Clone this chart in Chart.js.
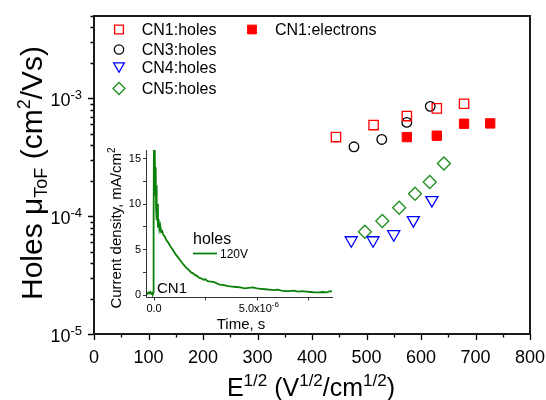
<!DOCTYPE html>
<html>
<head>
<meta charset="utf-8">
<script src="https://cdn.jsdelivr.net/npm/chart.js@4.4.1/dist/chart.umd.min.js"></script>
<style>
  body { margin: 0; background: #fff; }
  #wrap { position: relative; width: 546px; height: 400px; }
  #mainChart { position: absolute; left: 0; top: 0; }
  #insetChart { position: absolute; left: 100px; top: 140px; }
</style>
</head>
<body>
<div id="wrap">
  <canvas id="mainChart" width="546" height="400"></canvas>
  <canvas id="insetChart" width="240" height="200"></canvas>
</div>
<script>
"use strict";

// main plot: E^1/2 vs ToF mobility
var cn1HolesE = [444, 513, 574, 629, 679];
var cn1HolesMu = [4.69e-4, 5.93e-4, 7.07e-4, 8.22e-4, 9.0e-4];
var cn3HolesE = [477, 528, 574, 617];
var cn3HolesMu = [3.88e-4, 4.48e-4, 6.25e-4, 8.55e-4];
var cn4HolesE = [472, 512, 550, 586, 620];
var cn4HolesMu = [6.25e-5, 6.25e-5, 7.03e-5, 9.25e-5, 1.37e-4];
var cn5HolesE = [497, 529, 560, 589, 616, 642];
var cn5HolesMu = [7.38e-5, 9.1e-5, 1.18e-4, 1.55e-4, 1.95e-4, 2.8e-4];
var cn1ElecE = [574, 629, 679, 727];
var cn1ElecMu = [4.69e-4, 4.82e-4, 6.09e-4, 6.13e-4];

var xTicks = [0, 100, 200, 300, 400, 500, 600, 700, 800];
var yTickPowers = [-5, -4, -3];

// inset: transient photocurrent, CN1 holes at 120V (time in microseconds)
var timeUs = [-0.38, -0.33, -0.28, -0.23, -0.18, -0.13, -0.08, -0.05, -0.03, -0.02, 0.0, 0.02, 0.04, 0.06, 0.08, 0.1, 0.12, 0.14, 0.16, 0.19, 0.22, 0.26, 0.3, 0.35, 0.4, 0.45, 0.52, 0.6, 0.7, 0.8, 0.9, 1.0, 1.1, 1.2, 1.3, 1.4, 1.5, 1.6, 1.7, 1.8, 1.9, 2.0, 2.1, 2.2, 2.3, 2.4, 2.5, 2.6, 2.75, 2.9, 3.05, 3.2, 3.4, 3.6, 3.8, 4.0, 4.2, 4.4, 4.6, 4.8, 5.0, 5.2, 5.4, 5.6, 5.8, 6.0, 6.2, 6.4, 6.6, 6.8, 7.0, 7.2, 7.4, 7.6, 7.8, 8.0, 8.2, 8.4, 8.55, 8.65];
var currentDensity = [0.2, 0.1, 0.25, 0.15, 0.3, 0.1, 0.2, 0.15, 0.3, 8, 19, 13, 17, 11, 14, 9.5, 12, 8.2, 10, 7.4, 8.3, 7.2, 7.6, 6.9, 7.0, 6.6, 6.4, 6.0, 5.7, 5.3, 5.0, 4.6, 4.3, 4.0, 3.7, 3.4, 3.15, 2.9, 2.7, 2.45, 2.35, 2.15, 2.05, 1.85, 1.8, 1.65, 1.7, 1.5, 1.45, 1.4, 1.25, 1.1, 1.05, 0.95, 0.9, 0.85, 0.8, 0.7, 0.75, 0.8, 0.7, 0.65, 0.6, 0.55, 0.5, 0.55, 0.45, 0.4, 0.4, 0.45, 0.35, 0.4, 0.35, 0.3, 0.25, 0.25, 0.3, 0.25, 0.4, 0.35];
var insetYTicks = [0, 2.5, 5, 7.5, 10, 12.5, 15];
var insetXTicks = [0, 2.5, 5, 7.5];

var FONT = '"Liberation Sans", Arial, sans-serif';

function toPoints(xs, ys) {
  return xs.map(function (x, i) {
    return { x: x, y: ys[i] };
  });
}

// text made of pieces: [text, size, dy]
function drawRich(ctx, parts, x, y, align) {
  var total = 0;
  parts.forEach(function (p) {
    ctx.font = p[1] + "px " + FONT;
    p.w = ctx.measureText(p[0]).width;
    total += p.w;
  });
  var cx = x;
  if (align === "center") cx = x - total / 2;
  if (align === "right") cx = x - total;
  ctx.textAlign = "left";
  ctx.textBaseline = "alphabetic";
  parts.forEach(function (p) {
    ctx.font = p[1] + "px " + FONT;
    ctx.fillText(p[0], cx, y + (p[2] || 0));
    cx += p.w;
  });
}

function drawMarker(ctx, ds, x, y, r) {
  ctx.save();
  ctx.lineWidth = ds.pointBorderWidth;
  ctx.strokeStyle = ds.pointBorderColor;
  ctx.fillStyle = ds.pointBackgroundColor;
  ctx.beginPath();
  if (ds.pointStyle === "rect") {
    var h = r * Math.SQRT1_2;
    ctx.rect(x - h, y - h, 2 * h, 2 * h);
  } else if (ds.pointStyle === "circle") {
    ctx.arc(x, y, r * 0.75, 0, 2 * Math.PI);
  } else if (ds.pointStyle === "triangle") {
    ctx.moveTo(x - r * 0.866, y - r / 2);
    ctx.lineTo(x + r * 0.866, y - r / 2);
    ctx.lineTo(x, y + r);
    ctx.closePath();
  } else {
    ctx.moveTo(x - r, y);
    ctx.lineTo(x, y - r);
    ctx.lineTo(x + r, y);
    ctx.lineTo(x, y + r);
    ctx.closePath();
  }
  ctx.fill();
  ctx.stroke();
  ctx.restore();
}

var legendSlots = [[119, 29.5, 141.7], [119, 49.5, 141.7], [119, 67.5, 141.7], [119, 88.5, 141.7], [252, 29.5, 275]];

var mainAxes = {
  id: "mainAxes",
  afterDraw: function (chart) {
    var ctx = chart.ctx;
    var ca = chart.chartArea;
    var xs = chart.scales.x;
    var ys = chart.scales.y;
    ctx.save();
    ctx.fillStyle = "#000";
    ctx.strokeStyle = "#000";

    // x ticks (major + minor) and labels
    ctx.lineWidth = 1.3;
    ctx.beginPath();
    for (var v = xs.min; v <= xs.max; v += 50) {
      var px = Math.round(xs.getPixelForValue(v)) + 0.5;
      ctx.moveTo(px, ca.bottom);
      ctx.lineTo(px, ca.bottom + (v % 100 === 0 ? 6 : 3.5));
    }
    // y ticks, log decades
    yTickPowers.forEach(function (p) {
      for (var m = 1; m <= 9; m++) {
        var val = m * Math.pow(10, p);
        if (val > ys.max * 1.0001) break;
        var py = Math.round(ys.getPixelForValue(val)) + 0.5;
        ctx.moveTo(ca.left, py);
        ctx.lineTo(ca.left - (m === 1 ? 6 : 3.5), py);
      }
    });
    ctx.stroke();

    ctx.font = "18px " + FONT;
    ctx.textAlign = "center";
    ctx.textBaseline = "alphabetic";
    xTicks.forEach(function (t) {
      ctx.fillText(String(t), xs.getPixelForValue(t), 363);
    });
    yTickPowers.forEach(function (p) {
      var py = ys.getPixelForValue(Math.pow(10, p));
      ctx.font = "13px " + FONT;
      var sw = ctx.measureText(String(p)).width;
      ctx.textAlign = "left";
      ctx.fillText(String(p), 82 - sw, py + 1);
      ctx.font = "18px " + FONT;
      ctx.textAlign = "right";
      ctx.fillText("10", 82 - sw, py + 8);
    });

    // frame
    ctx.lineWidth = 2;
    ctx.strokeStyle = "#1a1a1a";
    ctx.strokeRect(ca.left, ca.top, ca.right - ca.left, ca.bottom - ca.top);

    // axis titles
    ctx.fillStyle = "#000";
    drawRich(ctx, [["E", 25], ["1/2", 17, -10], [" (V", 25], ["1/2", 17, -10], ["/cm", 25], ["1/2", 17, -10], [")", 25]], (ca.left + ca.right) / 2 - 1, 396, "center");
    ctx.save();
    ctx.translate(42, 173);
    ctx.rotate(-Math.PI / 2);
    drawRich(ctx, [["Holes ", 30], ["\u03bc", 30], ["ToF", 18, 5], [" (cm", 30], ["2", 18, -12], ["/Vs)", 30]], 0, 0, "center");
    ctx.restore();

    // legend
    chart.data.datasets.forEach(function (ds, i) {
      var s = legendSlots[i];
      var my = ds.pointStyle === "triangle" ? s[1] - 1.5 : s[1];
      drawMarker(ctx, ds, s[0], my, ds.pointStyle === "rectRot" ? 6 : 6.2);
      ctx.fillStyle = "#000";
      ctx.font = "16px " + FONT;
      ctx.textAlign = "left";
      ctx.textBaseline = "middle";
      ctx.fillText(ds.label, s[2], s[1] + 1);
    });
    ctx.restore();
  },
};

var mainChart = new Chart(document.getElementById("mainChart").getContext("2d"), {
  type: "scatter",
  data: {
    datasets: [
      {
        label: "CN1:holes",
        data: toPoints(cn1HolesE, cn1HolesMu),
        pointStyle: "rect",
        pointRadius: 6.6,
        pointBorderWidth: 1.3,
        pointBorderColor: "#ff0000",
        pointBackgroundColor: "rgba(255,255,255,0)",
      },
      {
        label: "CN3:holes",
        data: toPoints(cn3HolesE, cn3HolesMu),
        pointStyle: "circle",
        pointRadius: 4.8,
        pointBorderWidth: 1.3,
        pointBorderColor: "#000000",
        pointBackgroundColor: "rgba(255,255,255,0)",
      },
      {
        label: "CN4:holes",
        data: toPoints(cn4HolesE, cn4HolesMu),
        pointStyle: "triangle",
        rotation: 180,
        pointRadius: 7,
        pointBorderWidth: 1.3,
        pointBorderColor: "#0000ff",
        pointBackgroundColor: "rgba(255,255,255,0)",
      },
      {
        label: "CN5:holes",
        data: toPoints(cn5HolesE, cn5HolesMu),
        pointStyle: "rectRot",
        pointRadius: 6.5,
        pointBorderWidth: 1.3,
        pointBorderColor: "#1f8f1f",
        pointBackgroundColor: "rgba(255,255,255,0)",
      },
      {
        label: "CN1:electrons",
        data: toPoints(cn1ElecE, cn1ElecMu),
        pointStyle: "rect",
        pointRadius: 6.6,
        pointBorderWidth: 1,
        pointBorderColor: "#ff0000",
        pointBackgroundColor: "#ff0000",
      },
    ],
  },
  options: {
    responsive: false,
    animation: false,
    layout: { padding: { left: 94, right: 16, top: 16, bottom: 66 } },
    plugins: { legend: { display: false }, tooltip: { enabled: false } },
    scales: {
      x: { type: "linear", min: 0, max: 800, display: false },
      y: { type: "logarithmic", min: 1e-5, max: 5e-3, display: false },
    },
  },
  plugins: [mainAxes],
});

var insetAxes = {
  id: "insetAxes",
  afterDraw: function (chart) {
    var ctx = chart.ctx;
    var ca = chart.chartArea;
    var xs = chart.scales.x;
    var ys = chart.scales.y;
    ctx.save();
    ctx.strokeStyle = "#333";
    ctx.lineWidth = 1;
    ctx.beginPath();
    ctx.moveTo(ca.left + 0.5, ca.top);
    ctx.lineTo(ca.left + 0.5, ca.bottom + 0.5);
    ctx.lineTo(ca.right, ca.bottom + 0.5);
    insetYTicks.forEach(function (t) {
      var py = Math.round(ys.getPixelForValue(t)) + 0.5;
      ctx.moveTo(ca.left, py);
      ctx.lineTo(ca.left - 3, py);
    });
    insetXTicks.forEach(function (t) {
      var px = Math.round(xs.getPixelForValue(t)) + 0.5;
      ctx.moveTo(px, ca.bottom);
      ctx.lineTo(px, ca.bottom + 3.5);
    });
    ctx.stroke();

    ctx.fillStyle = "#000";
    ctx.font = "11px " + FONT;
    ctx.textAlign = "right";
    ctx.textBaseline = "middle";
    insetYTicks.forEach(function (t) {
      if (t % 5 === 0) ctx.fillText(String(t), ca.left - 5, ys.getPixelForValue(t) + 0.5);
    });
    drawRich(ctx, [["0.0", 11]], xs.getPixelForValue(0), 172, "center");
    drawRich(ctx, [["5.0x10", 11], ["-6", 8, -5]], xs.getPixelForValue(5) + 2, 172, "center");

    drawRich(ctx, [["Time, s", 15]], 141, 189, "center");
    ctx.save();
    ctx.translate(21, 88);
    ctx.rotate(-Math.PI / 2);
    drawRich(ctx, [["Current density, mA/cm", 15], ["2", 10, -6]], 0, 0, "center");
    ctx.restore();

    // inset labels and legend
    drawRich(ctx, [["holes", 16]], 93, 104, "left");
    ctx.strokeStyle = chart.data.datasets[0].borderColor;
    ctx.lineWidth = 1.8;
    ctx.beginPath();
    ctx.moveTo(93, 113.5);
    ctx.lineTo(117, 113.5);
    ctx.stroke();
    drawRich(ctx, [["120V", 12]], 120, 118, "left");
    drawRich(ctx, [["CN1", 15]], 57, 153, "left");
    ctx.restore();
  },
};

var insetChart = new Chart(document.getElementById("insetChart").getContext("2d"), {
  type: "scatter",
  data: {
    datasets: [
      {
        label: "120V",
        data: toPoints(timeUs, currentDensity),
        showLine: true,
        borderColor: "#0a800a",
        borderWidth: 1.8,
        pointRadius: 0,
        tension: 0,
      },
    ],
  },
  options: {
    responsive: false,
    animation: false,
    layout: { padding: { left: 46, right: 7, top: 10, bottom: 43 } },
    plugins: { legend: { display: false }, tooltip: { enabled: false } },
    scales: {
      x: { type: "linear", min: -0.39, max: 8.7, display: false },
      y: { type: "linear", min: -0.25, max: 15.9, display: false },
    },
  },
  plugins: [insetAxes],
});
</script>
</body>
</html>
